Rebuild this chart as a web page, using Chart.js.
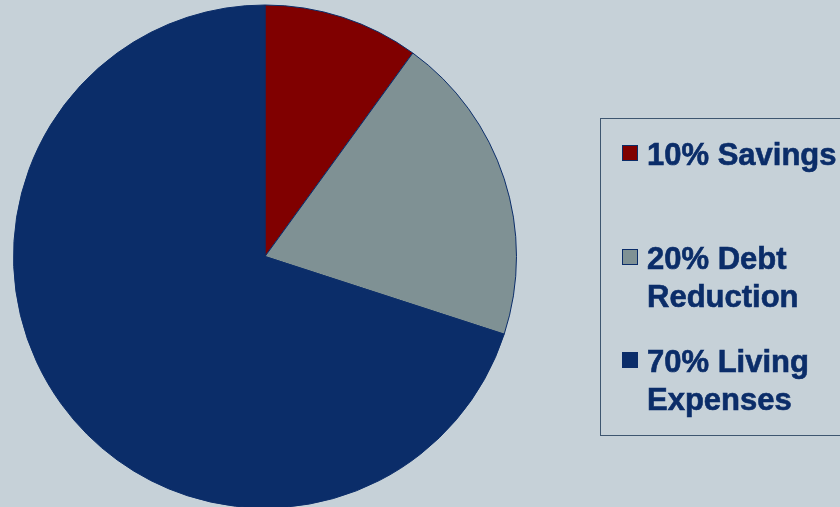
<!DOCTYPE html>
<html>
<head>
<meta charset="utf-8">
<script src="https://cdn.jsdelivr.net/npm/chart.js@4"></script>
<style>
  html, body { margin: 0; padding: 0; background: #c6d1d8; overflow: hidden; }
  #wrap { width: 840px; height: 507px; overflow: hidden; }
</style>
</head>
<body>
<div id="wrap"><canvas id="chartCanvas" width="840" height="540"></canvas></div>
<script>
var categories = ["Savings", "Debt Reduction", "Living Expenses"];
var shares = [10, 20, 70];
var legendLines = [["10% Savings"], ["20% Debt", "Reduction"], ["70% Living", "Expenses"]];
var sliceColors = ["#800000", "#7f9194", "#0b2d69"];

// legend box drawn on the canvas, right of the pie
var boxLegend = {
  id: "boxLegend",
  afterDraw: function (chart) {
    var ctx = chart.ctx;
    var rows = [165, 269, 372];
    ctx.save();
    ctx.strokeStyle = "#3e5670";
    ctx.lineWidth = 1;
    ctx.strokeRect(600.5, 118.5, 260, 317);
    ctx.font = "bold 31px 'Liberation Sans', Arial, sans-serif";
    ctx.textBaseline = "alphabetic";
    chart.data.labels.forEach(function (lines, i) {
      var y = rows[i];
      ctx.fillStyle = chart.data.datasets[0].backgroundColor[i];
      ctx.fillRect(622, y - 20, 16, 16);
      ctx.strokeStyle = "#0b2d69";
      ctx.strokeRect(622.5, y - 19.5, 15, 15);
      ctx.fillStyle = "#0b2d69";
      ctx.strokeStyle = "#0b2d69";
      ctx.lineWidth = 0.6;
      lines.forEach(function (t, j) {
        ctx.fillText(t, 647, y + j * 38);
        ctx.strokeText(t, 647, y + j * 38);
      });
      ctx.lineWidth = 1;
    });
    ctx.restore();
  }
};

var ctx = document.getElementById("chartCanvas");
var pie = new Chart(ctx, {
  type: "pie",
  data: {
    labels: legendLines,
    datasets: [
      {
        label: "Budget",
        data: shares,
        backgroundColor: sliceColors,
        borderColor: "#0b2d69",
        borderWidth: 1
      }
    ]
  },
  options: {
    responsive: false,
    animation: false,
    layout: { padding: { left: 13, right: 323, top: 4, bottom: 31 } },
    plugins: {
      legend: { display: false },
      tooltip: { enabled: false }
    }
  },
  plugins: [boxLegend]
});
</script>
</body>
</html>
